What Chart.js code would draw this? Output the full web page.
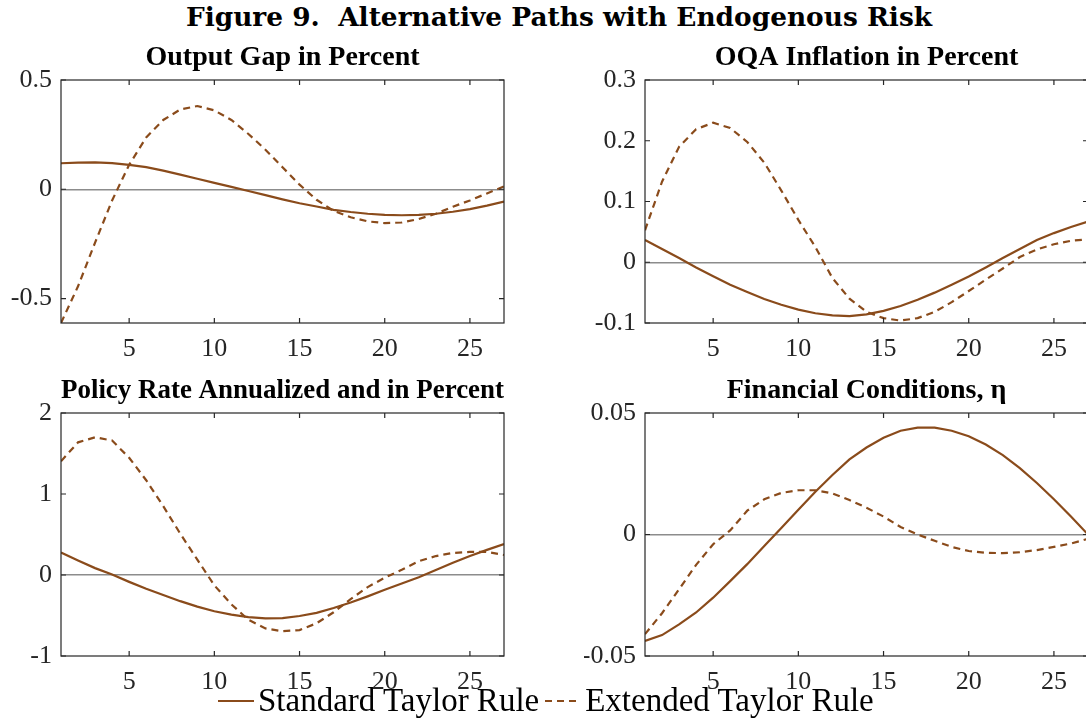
<!DOCTYPE html>
<html>
<head>
<meta charset="utf-8">
<script src="https://cdn.jsdelivr.net/npm/chart.js@4.4.1/dist/chart.umd.min.js"></script>
<style>
  html, body { margin: 0; padding: 0; background: #fff; overflow: hidden; }
  body { width: 1086px; height: 720px; position: relative; }
  canvas { position: absolute; }
  #fig-title {
    position: absolute; top: 0; left: 0; width: 1118px; text-align: center;
    font: bold 26.4px "DejaVu Serif", serif; line-height: 34px; color: #000; white-space: pre;
  }
  #legend {
    position: absolute; top: 682px; left: 218px; display: flex; align-items: center;
    font: 33px "Liberation Serif", serif; color: #000; white-space: nowrap;
  }
  #legend svg { display: block; }
</style>
</head>
<body>
<div id="fig-title">Figure 9.  Alternative Paths with Endogenous Risk</div>
<canvas id="c-output" width="543" height="327" style="left:0;top:36px"></canvas>
<canvas id="c-infl" width="543" height="327" style="left:584px;top:36px"></canvas>
<canvas id="c-policy" width="543" height="327" style="left:0;top:369px"></canvas>
<canvas id="c-fin" width="543" height="327" style="left:584px;top:369px"></canvas>
<div id="legend">
  <svg width="36" height="10"><line x1="0" y1="5" x2="36" y2="5" stroke="#8a4b1b" stroke-width="2"/></svg>
  <span style="margin-left:4px">Standard Taylor Rule</span>
  <svg width="36" height="10" style="margin-left:6px"><line x1="0" y1="5" x2="36" y2="5" stroke="#8a4b1b" stroke-width="2" stroke-dasharray="7,5"/></svg>
  <span style="margin-left:4px">Extended Taylor Rule</span>
</div>
<script>
const steps = [1,2,3,4,5,6,7,8,9,10,11,12,13,14,15,16,17,18,19,20,21,22,23,24,25,26,27];
const xTicks = [5, 10, 15, 20, 25];

const outputStd = [0.119,0.122,0.123,0.120,0.112,0.101,0.085,0.067,0.048,0.029,0.011,-0.008,-0.027,-0.046,-0.064,-0.079,-0.094,-0.104,-0.112,-0.117,-0.119,-0.117,-0.112,-0.103,-0.091,-0.075,-0.056];
const outputExt = [-0.612,-0.444,-0.244,-0.051,0.112,0.237,0.317,0.365,0.381,0.361,0.317,0.253,0.181,0.101,0.021,-0.048,-0.099,-0.128,-0.147,-0.155,-0.152,-0.136,-0.112,-0.080,-0.051,-0.019,0.013];
const outputTicks = [-0.5, 0, 0.5];

const inflStd = [0.0366,0.0217,0.0069,-0.0086,-0.0229,-0.0371,-0.049,-0.0606,-0.070,-0.078,-0.084,-0.0874,-0.0886,-0.0857,-0.080,-0.072,-0.0617,-0.050,-0.037,-0.0234,-0.0086,0.0069,0.0217,0.0366,0.048,0.058,0.0669];
const inflExt = [0.0526,0.1326,0.190,0.219,0.2297,0.221,0.198,0.164,0.118,0.0697,0.025,-0.026,-0.060,-0.0817,-0.092,-0.096,-0.092,-0.0817,-0.0657,-0.0474,-0.0286,-0.0103,0.0086,0.0211,0.0297,0.0354,0.0377];
const inflTicks = [-0.1, 0, 0.1, 0.2, 0.3];

const policyStd = [0.277,0.179,0.085,0.005,-0.085,-0.17,-0.247,-0.323,-0.39,-0.447,-0.489,-0.519,-0.536,-0.532,-0.506,-0.468,-0.408,-0.34,-0.264,-0.183,-0.105,-0.028,0.062,0.15,0.235,0.31,0.383];
const policyExt = [1.404,1.638,1.70,1.66,1.447,1.17,0.851,0.51,0.19,-0.128,-0.362,-0.553,-0.66,-0.694,-0.68,-0.596,-0.46,-0.298,-0.149,-0.034,0.064,0.17,0.234,0.272,0.285,0.285,0.247];
const policyTicks = [-1, 0, 1, 2];

const finStd = [-0.0438,-0.0414,-0.037,-0.0321,-0.026,-0.0192,-0.0122,-0.0047,0.0027,0.0102,0.0176,0.0245,0.0309,0.0358,0.0398,0.0427,0.044,0.044,0.0427,0.0404,0.037,0.0327,0.0273,0.0212,0.0145,0.0074,0.0];
const finExt = [-0.041,-0.0324,-0.0225,-0.0125,-0.004,0.0017,0.0098,0.0145,0.0171,0.0182,0.0182,0.0169,0.0142,0.011,0.0074,0.0031,0.0,-0.0026,-0.0051,-0.0068,-0.0075,-0.0077,-0.0073,-0.0064,-0.0051,-0.0037,-0.0018];
const finTicks = [-0.05, 0, 0.05];

const LINE = '#8a4b1b';
const AXIS = '#262626';
const tickFont = { family: '"Liberation Serif", serif', size: 26 };

// full box with inward ticks on all four sides, like the matlab default
const boxPlugin = {
  id: 'box',
  afterDatasetsDraw(chart) {
    const { ctx, chartArea: a, scales: { x, y } } = chart;
    ctx.save();
    ctx.strokeStyle = AXIS;
    ctx.lineWidth = 1.2;
    ctx.strokeRect(a.left, a.top, a.right - a.left, a.bottom - a.top);
    ctx.beginPath();
    x.ticks.forEach(t => {
      const px = x.getPixelForValue(t.value);
      ctx.moveTo(px, a.bottom); ctx.lineTo(px, a.bottom - 5);
      ctx.moveTo(px, a.top); ctx.lineTo(px, a.top + 5);
    });
    y.ticks.forEach(t => {
      const py = y.getPixelForValue(t.value);
      ctx.moveTo(a.left, py); ctx.lineTo(a.left + 5, py);
      ctx.moveTo(a.right, py); ctx.lineTo(a.right - 5, py);
    });
    ctx.stroke();
    ctx.restore();
  }
};

function panel(id, title, std, ext, yTicks, yMin, yMax) {
  const ctx = document.getElementById(id).getContext('2d');
  return new Chart(ctx, {
    type: 'line',
    data: {
      datasets: [
        {
          label: 'Standard Taylor Rule',
          data: steps.map((s, i) => ({ x: s, y: std[i] })),
          borderColor: LINE, borderWidth: 2.2, pointRadius: 0,
        },
        {
          label: 'Extended Taylor Rule',
          data: steps.map((s, i) => ({ x: s, y: ext[i] })),
          borderColor: LINE, borderWidth: 2.2, borderDash: [7, 5], pointRadius: 0,
        },
      ],
    },
    options: {
      responsive: false,
      animation: false,
      devicePixelRatio: 1,
      layout: { padding: { left: 0, right: 39, top: 0, bottom: 0 } },
      plugins: {
        legend: { display: false },
        tooltip: { enabled: false },
        title: {
          display: true, text: title, fullSize: false, color: '#000',
          font: { family: '"Liberation Serif", serif', size: 28, weight: 'bold', lineHeight: 1.2 },
          padding: { top: 5, bottom: 5.4 },
        },
      },
      scales: {
        x: {
          type: 'linear', min: 1, max: 27,
          afterBuildTicks: s => { s.ticks = xTicks.map(v => ({ value: v })); },
          afterFit: s => { s.height = 40; },
          ticks: { color: AXIS, font: tickFont, padding: 11, maxRotation: 0 },
          grid: { display: false, drawTicks: false },
          border: { display: false },
        },
        y: {
          min: yMin, max: yMax,
          afterBuildTicks: s => { s.ticks = yTicks.map(v => ({ value: v })); },
          afterFit: s => { s.width = 61; },
          ticks: { color: AXIS, font: tickFont, padding: 9, callback: v => String(v) },
          grid: {
            drawTicks: false, lineWidth: 1.5,
            color: c => (c.tick && c.tick.value === 0 ? '#8c8c8c' : 'rgba(0,0,0,0)'),
          },
          border: { display: false },
        },
      },
    },
    plugins: [boxPlugin],
  });
}

panel('c-output', 'Output Gap in Percent', outputStd, outputExt, outputTicks, -0.612, 0.5);
panel('c-infl', 'OQA Inflation in Percent', inflStd, inflExt, inflTicks, -0.1, 0.3);
panel('c-policy', 'Policy Rate Annualized and in Percent', policyStd, policyExt, policyTicks, -1, 2);
panel('c-fin', 'Financial Conditions, \u03B7', finStd, finExt, finTicks, -0.05, 0.05);
</script>
</body>
</html>
